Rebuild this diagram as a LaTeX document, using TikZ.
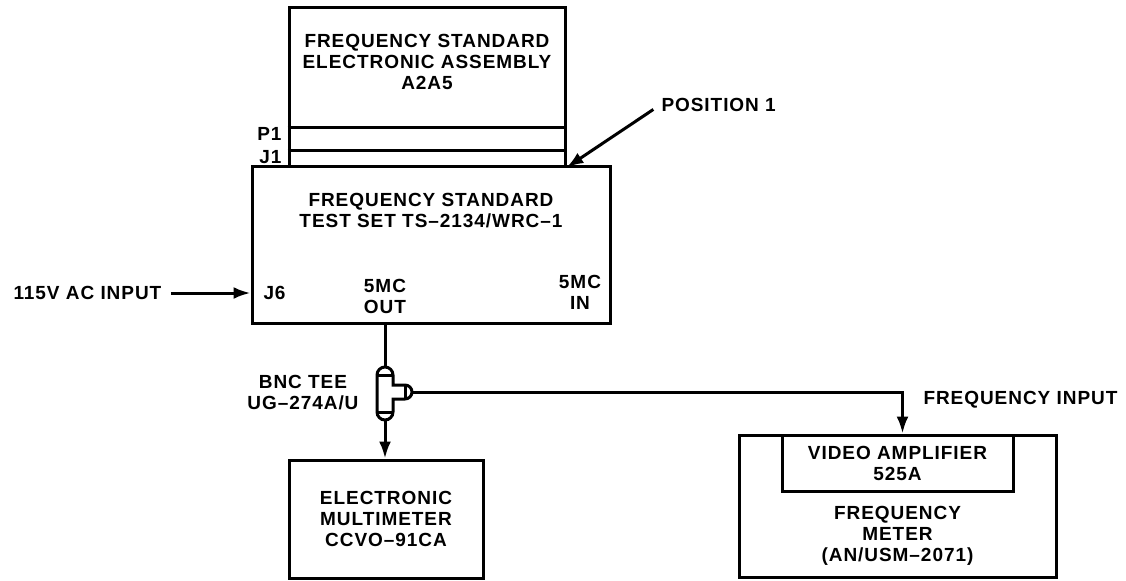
\documentclass[tikz,border=0pt]{standalone}
\usepackage{fontspec}
\setmainfont{Liberation Sans}
\usetikzlibrary{arrows.meta}

\begin{document}
\begin{tikzpicture}[x=0.5pt,y=-0.5pt,line width=1.5pt,>={Latex[length=8.5pt,width=6pt]},
  caja/.style={draw,line width=1.5pt,inner sep=0pt},
  txt/.style={font=\fontsize{9.5}{10.5}\selectfont\bfseries\addfontfeature{LetterSpace=5},align=center,inner sep=0pt}]
  \useasboundingbox (0,0) rectangle (1126,580);
  % conjunto electronico A2A5 con P1 y J1
  \node[caja,minimum width=138pt,minimum height=79.5pt] (asm) at (427,86.5) {};
  \node[txt] (asmtxt) at (427,62) {FREQUENCY STANDARD\\ELECTRONIC ASSEMBLY\\A2A5};
  \draw ([yshift=20pt]asm.south west) -- ([yshift=20pt]asm.south east);
  \draw ([yshift=8.5pt]asm.south west) -- ([yshift=8.5pt]asm.south east);
  \node[txt,anchor=east] (p1lbl) at (283,134) {P1};
  \node[txt,anchor=east] (j1lbl) at (283,157) {J1};
  % equipo de prueba
  \node[caja,minimum width=179pt,minimum height=78.5pt] (ts) at (431,244.5) {};
  \node[txt] (tstxt) at (431,211) {FREQUENCY STANDARD\\TEST SET TS--2134/WRC--1};
  \node[txt,anchor=west] (j6) at (262,293) {J6};
  \node[txt] (mcout) at (385,296) {5MC\\OUT};
  \node[txt] (mcin) at (580,292) {5MC\\IN};
  \node[txt,anchor=west] (poslbl) at (660,105) {POSITION 1};
  \node[txt,anchor=west] (acin) at (12,293) {115V AC INPUT};
  % T BNC
  \draw (377,375) -- (377,412) arc (180:360:4pt) -- (393,399) -- (405,399)
    arc (-90:90:3.5pt) -- (393,385) -- (393,375) arc (0:180:4pt) -- cycle;
  \draw (377,375) -- (393,375) (377,412) -- (393,412) (405,385) -- (405,399);
  \coordinate (teein) at (385,367);
  \coordinate (teeout) at (385,420);
  \coordinate (teeside) at (412,392);
  \node[txt,anchor=east] (teelbl) at (360,393) {BNC TEE\\UG--274A/U};
  % multimetro y frecuencimetro
  \node[caja,txt,minimum width=97pt,minimum height=59pt] (mm) at (386,519)
    {ELECTRONIC\\MULTIMETER\\CCVO--91CA};
  \node[caja,minimum width=158.5pt,minimum height=71pt] (fm) at (897.5,506) {};
  \node[caja,txt,minimum width=115.5pt,minimum height=28pt,anchor=north] (va) at (fm.north)
    {VIDEO AMPLIFIER\\525A};
  \node[txt] (fmtxt) at (897.5,536) {FREQUENCY\\METER\\(AN/USM--2071)};
  \node[txt,anchor=west] (finlbl) at (922,400) {FREQUENCY INPUT};
  % conexiones
  \draw[->,shorten <=4pt] (acin.east) -- (acin.east -| ts.west);
  \draw[->,shorten <=4pt] (poslbl.west) -- (asm.south east);
  \draw (ts.south -| teein) -- (teein);
  \draw[->] (teeout) -- (teeout |- mm.north);
  \draw[->] (teeside) -| ([xshift=2.5pt]va.north);
\end{tikzpicture}
\end{document}
